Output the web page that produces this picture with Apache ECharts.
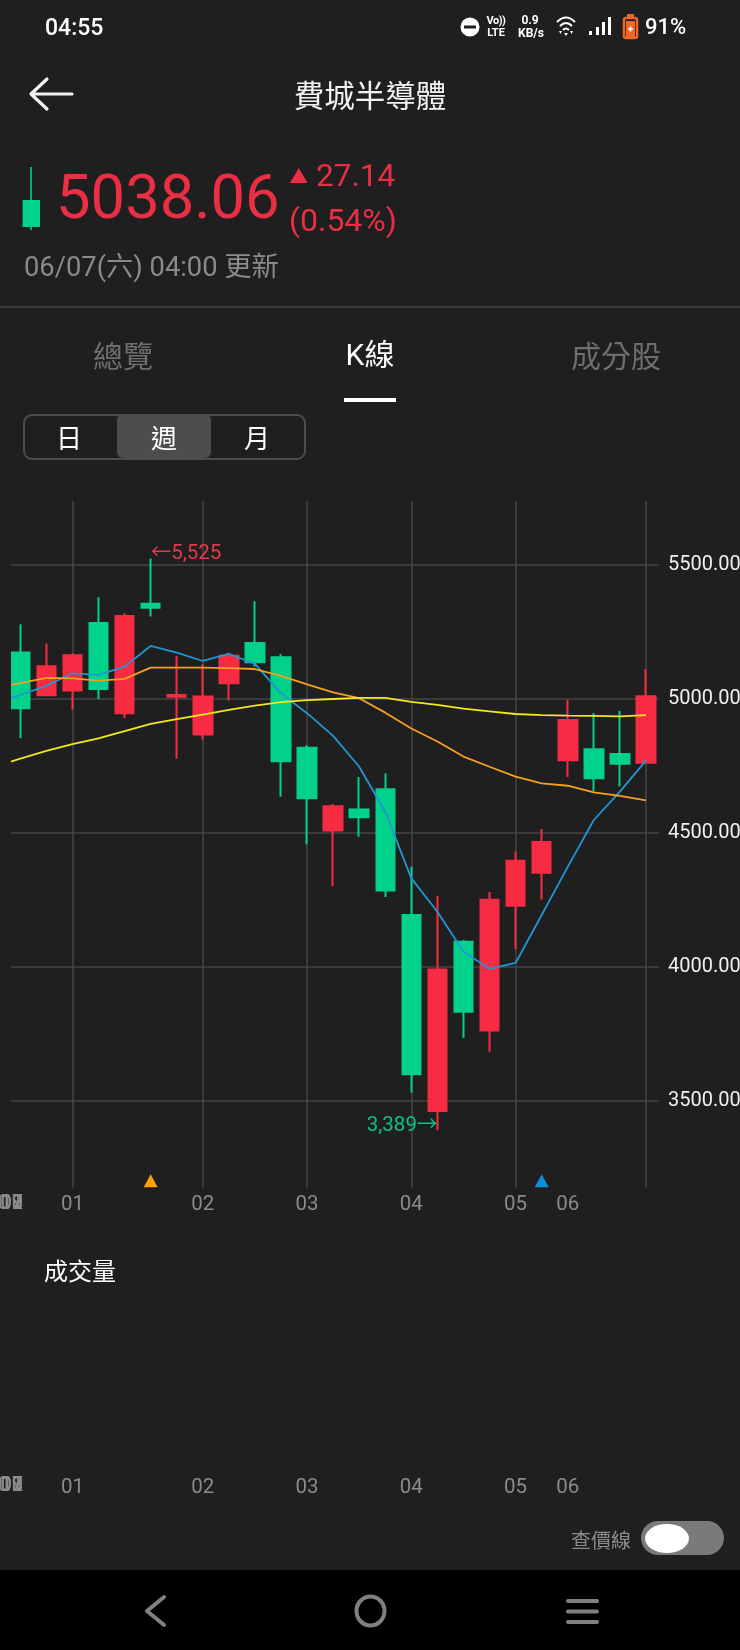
<!DOCTYPE html>
<html lang="zh-Hant">

<head>
  <meta charset="UTF-8">
  <title>費城半導體</title>
  <style>
    html, body { margin: 0; padding: 0; background: #1f1f1f; }
    body { width: 740px; height: 1650px; position: relative; overflow: hidden;
      font-family: Roboto, "Noto Sans CJK TC", sans-serif; color: #fff; }
    #main { position: absolute; left: 0; top: 0; width: 740px; height: 1650px; }
    .t { position: absolute; white-space: nowrap; line-height: 1; }
    .c { transform: translate(-50%, -50%); }
    .l { transform: translateY(-50%); }
    .cjk { font-family: "Noto Sans CJK TC", sans-serif; }
    .box { position: absolute; }
    .red { color: #ea2f45; }
    .tab { font-size: 30px; color: #6e6e6e; }
    svg { position: absolute; left: 0; top: 0; }
  </style>
</head>

<body>
  <div id="main"></div>

  <!-- status bar -->
  <div class="t l" style="left:45px;top:27px;font-size:23px;font-weight:500">04:55</div>
  <div class="t c" style="left:496px;top:20px;font-size:11px;font-weight:700;letter-spacing:-0.5px">Vo))</div>
  <div class="t c" style="left:496px;top:32px;font-size:11px;font-weight:700">LTE</div>
  <div class="t c" style="left:530px;top:20px;font-size:12px;font-weight:700">0.9</div>
  <div class="t c" style="left:531px;top:33px;font-size:12px;font-weight:700">KB/s</div>
  <div class="t l" style="left:645px;top:27px;font-size:22px;font-weight:500">91%</div>

  <!-- header -->
  <div class="t c cjk" style="left:370px;top:94px;font-size:30.500px;color:#f2f2f2">費城半導體</div>
  <div class="t l red" style="left:56px;top:198px;font-size:61.500px">5038.06</div>
  <div class="t l red" style="left:316px;top:176px;font-size:31.500px">27.14</div>
  <div class="t l red" style="left:289px;top:220px;font-size:32px">(0.54%)</div>
  <div class="t l" style="left:24px;top:268px;font-size:27.300px;color:#8a8a8a">06/07(六) 04:00 更新</div>

  <div class="box" style="left:0;top:306px;width:740px;height:2px;background:#3a3a3a"></div>

  <!-- tabs -->
  <div class="t c cjk tab" style="left:123px;top:354px">總覽</div>
  <div class="t c tab" style="left:370px;top:355px;color:#fff">K線</div>
  <div class="t c cjk tab" style="left:616px;top:354px">成分股</div>
  <div class="box" style="left:344px;top:398px;width:52px;height:4px;background:#fff"></div>

  <!-- 日 週 月 -->
  <div class="box" style="left:23px;top:414px;width:279px;height:42px;border:2px solid #4c4c4c;border-radius:9px"></div>
  <div class="box" style="left:117px;top:414px;width:94px;height:44px;background:#4d4d4d;border-radius:6px"></div>
  <div class="t c cjk" style="left:69px;top:437px;font-size:26px">日</div>
  <div class="t c cjk" style="left:164px;top:437px;font-size:26px">週</div>
  <div class="t c cjk" style="left:257px;top:437px;font-size:26px">月</div>

  <div class="t c cjk" style="left:80px;top:1270px;font-size:24px">成交量</div>

  <!-- 查價線 -->
  <div class="t c cjk" style="left:601px;top:1540px;font-size:20px;color:#8a8a8a">查價線</div>
  <div class="box" style="left:641px;top:1521px;width:83px;height:34px;background:#7a7a7a;border-radius:17px"></div>
  <div class="box" style="left:645px;top:1524px;width:44px;height:29px;background:#fff;border-radius:50%"></div>

  <!-- nav bar -->
  <div class="box" style="left:0;top:1570px;width:740px;height:80px;background:#000"></div>

  <svg width="740" height="1650" fill="none">
    <!-- dnd -->
    <circle cx="470" cy="27" r="9.5" fill="#fff" />
    <rect x="464" y="25.5" width="12" height="3" fill="#1f1f1f" />
    <!-- wifi -->
    <path d="M557 22 Q566 13 575 22 M560 26 Q566 20 572 26 M563 30 Q566 27 569 30" stroke="#fff" stroke-width="2" />
    <path d="M559 31 l3 0 l-1.5 3 z M570 31 l3 0 l-1.5 3 z M564 33 l4 0 l-2 3 z" fill="#fff" />
    <!-- signal -->
    <rect x="589" y="31" width="3" height="4" fill="#fff" />
    <rect x="596" y="27" width="3" height="8" fill="#fff" />
    <rect x="602" y="22" width="3" height="13" fill="#fff" />
    <rect x="608" y="17" width="3" height="18" fill="#fff" />
    <!-- battery -->
    <rect x="624" y="18" width="13" height="20" rx="2" fill="#1f1f1f" stroke="#f0662a" stroke-width="2.5" />
    <rect x="627" y="14" width="7" height="4" fill="#f0662a" />
    <rect x="626" y="21" width="9" height="16" fill="#f0662a" />
    <path d="M628 29 h5 M630.5 26.5 v5" stroke="#fff" stroke-width="1.6" />
    <!-- back -->
    <path d="M72 94 H32 M47 79 L31 94 L47 109" stroke="#f2f2f2" stroke-width="3.2" stroke-linecap="round" stroke-linejoin="round" />
    <!-- small candle -->
    <rect x="30.2" y="167" width="1.6" height="63" fill="#02d18b" />
    <rect x="22.6" y="200" width="17.4" height="27" fill="#02d18b" />
    <!-- up triangle -->
    <path d="M290 183 L298.8 168 L307.5 183 Z" fill="#ea2f45" />
    <!-- nav icons -->
    <path d="M164 1597 L147 1611 L164 1625" stroke="#808080" stroke-width="4" stroke-linecap="round" stroke-linejoin="round" />
    <ellipse cx="370.500" cy="1611" rx="14" ry="14.500" stroke="#808080" stroke-width="4" />
    <path d="M568 1601 H597 M568 1611.500 H597 M568 1622 H597" stroke="#808080" stroke-width="4" stroke-linecap="round" />
  </svg>

  <script src="https://cdn.jsdelivr.net/npm/echarts@6/dist/echarts.min.js"></script>
  <script>

  // 週K, 第一筆在畫面左緣外, 只留均線
  const weeks = ['12/13', '12/20', '12/27', '01/03', '01/10', '01/17', '01/24', '01/31', '02/07', '02/14', '02/21',
    '02/28', '03/07', '03/14', '03/21', '03/28', '04/04', '04/11', '04/18', '04/25', '05/02', '05/09', '05/16',
    '05/23', '05/30', '06/06'];

  // [open, close, low, high]
  const candles = [
    '-',
    [5174, 4965, 4853, 5279],
    [5014, 5122, 5014, 5207],
    [5032, 5163, 4961, 5171],
    [5284, 5037, 5000, 5380],
    [4947, 5310, 4929, 5320],
    [5356, 5341, 5308, 5525],
    [5008, 5015, 4777, 5162],
    [4867, 5009, 4849, 5130],
    [5059, 5162, 4994, 5173],
    [5209, 5137, 5121, 5365],
    [5156, 4767, 4635, 5168],
    [4818, 4629, 4457, 4827],
    [4509, 4599, 4301, 4608],
    [4587, 4558, 4485, 4709],
    [4663, 4285, 4260, 4722],
    [4193, 3598, 3530, 4373],
    [3461, 3990, 3389, 4264],
    [4093, 3832, 3734, 4100],
    [3762, 4250, 3682, 4279],
    [4228, 4396, 4066, 4430],
    [4351, 4466, 4251, 4514],
    [4771, 4922, 4709, 4996],
    [4812, 4704, 4654, 4948],
    [4795, 4758, 4674, 4955],
    [4762, 5010, 4762, 5112]
  ];

  const maBlue = [4980, 5015, 5049, 5096, 5090, 5121, 5198, 5173, 5142, 5169, 5131, 5021, 4947, 4862, 4747, 4579,
    4330, 4205, 4056, 3992, 4014, 4193, 4373, 4548, 4654, 4770];
  const maOrange = [5041, 5059, 5079, 5077, 5069, 5075, 5117, 5117, 5117, 5115, 5112, 5086, 5055, 5025, 5003, 4949,
    4890, 4841, 4785, 4747, 4710, 4685, 4676, 4651, 4638, 4621];
  const maYellow = [4746, 4777, 4806, 4831, 4853, 4880, 4907, 4925, 4942, 4959, 4975, 4988, 4996, 5000, 5004, 5004,
    4989, 4978, 4964, 4954, 4944, 4940, 4938, 4937, 4935, 4940];

  // 月份標籤 (對應 weeks)
  const tickLabels = {
    '01/03': '01', '02/07': '02', '03/07': '03', '04/04': '04', '05/02': '05', '05/16': '06'
  };
  const gridWeeks = ['01/03', '02/07', '03/07', '04/04', '05/02', '06/06'];
  const leftLabels = ['07', '08', '09', '10', '11', '12'];

  const priceTicks = { min: 3000, max: 6000, interval: 500 };
  const gridTop = 5740;
  const gridBottom = 3174;
  const highMark = ['01/24', 5525];
  const lowMark = ['04/11', 3389];
  const orangeFlag = [['01/24', 3200]];
  const blueFlag = [['05/09', 3200]];

  const RED = '#f72c43';
  const GREEN = '#02d18b';
  const GRID = '#464646';
  const LABEL = '#8b8b8b';
  const MARK_FONT = 'Roboto, "Noto Sans CJK TC"';

  let myChart = echarts.init(document.getElementById('main'), null, { renderer: 'canvas' });

  function maSeries(name, data, color) {
    return {
      name: name,
      type: 'line',
      data: data,
      symbol: 'none',
      z: 3,
      silent: true,
      lineStyle: { color: color, width: 1.8 }
    };
  }

  function monthAxis(gridIndex, offset) {
    return {
      type: 'category',
      gridIndex: gridIndex,
      data: weeks,
      offset: offset,
      axisLine: { show: false },
      axisTick: { show: false },
      splitLine: { show: false },
      axisLabel: {
        interval: 0,
        hideOverlap: false,
        margin: 7,
        color: LABEL,
        fontSize: 20.5,
        fontFamily: 'Roboto',
        formatter: (v) => tickLabels[v] || ''
      }
    };
  }

  let option = {
    animation: false,
    backgroundColor: 'transparent',
    grid: [
      { left: -18.8, top: 431.3, width: 677.8, height: 803.1, outerBoundsMode: 'none' },
      { left: -18.8, top: 1295, width: 677.8, height: 175, outerBoundsMode: 'none' }
    ],
    xAxis: [monthAxis(0, -47), monthAxis(1, 0)],
    yAxis: [
      {
        type: 'value',
        position: 'right',
        min: priceTicks.min,
        max: priceTicks.max,
        interval: priceTicks.interval,
        axisLine: { show: false },
        axisTick: { show: false },
        axisLabel: {
          margin: 9,
          padding: [2, 0, 0, 0],
          color: '#f0f0f0',
          fontSize: 20,
          fontFamily: 'Roboto',
          showMinLabel: false,
          showMaxLabel: false,
          formatter: (v) => v.toFixed(2)
        },
        splitLine: {
          showMinLine: false,
          showMaxLine: false,
          lineStyle: { color: GRID, width: 1.5 }
        }
      },
      { type: 'value', gridIndex: 1, show: false, splitLine: { show: false } }
    ],
    series: [
      {
        name: 'K',
        type: 'candlestick',
        data: candles,
        barWidth: 19,
        z: 2,
        silent: true,
        itemStyle: { color: RED, color0: GREEN, borderColor: RED, borderColor0: GREEN, borderWidth: 2 },
        markLine: {
          silent: true,
          z: 1,
          symbol: ['none', 'none'],
          label: { show: false },
          lineStyle: { color: GRID, width: 1.5, type: 'solid' },
          data: gridWeeks.map((w) => [{ xAxis: w, yAxis: gridTop }, { xAxis: w, yAxis: gridBottom }])
        },
        markPoint: {
          silent: true,
          symbolSize: 0,
          z: 4,
          data: [
            {
              coord: highMark,
              label: {
                show: true, position: 'right', distance: 0, offset: [0, -5],
                color: '#e2394d', fontSize: 20.5, fontFamily: MARK_FONT,
                formatter: '←' + highMark[1].toLocaleString('en-US')
              }
            },
            {
              coord: lowMark,
              label: {
                show: true, position: 'left', distance: 0, offset: [0, -4],
                color: '#0cc086', fontSize: 20.5, fontFamily: MARK_FONT,
                formatter: lowMark[1].toLocaleString('en-US') + '→'
              }
            }
          ]
        }
      },
      maSeries('MA5', maBlue, '#2196d3'),
      maSeries('MA20', maOrange, '#f5a01e'),
      maSeries('MA60', maYellow, '#f2e81e'),
      {
        name: 'high flag', type: 'scatter', data: orangeFlag, symbol: 'triangle', symbolSize: [14, 13],
        itemStyle: { color: '#ff9f00', opacity: 1 }, silent: true, z: 3
      },
      {
        name: 'low flag', type: 'scatter', data: blueFlag, symbol: 'triangle', symbolSize: [14, 13],
        itemStyle: { color: '#0a8fd8', opacity: 1 }, silent: true, z: 3
      }
    ],
    graphic: [
      // 遮掉畫面左緣 11px, K線和格線從這裡開始
      { type: 'rect', z: 50, silent: true, shape: { x: 0, y: 495, width: 11, height: 695 }, style: { fill: '#1f1f1f' } }
    ]
  };

  // 左緣擠在一起的月份標籤
  [1204, 1486].forEach((y) => {
    option.graphic.push({
      type: 'text', z: 51, silent: true, x: -2, y: y,
      style: { text: '0', fill: LABEL, font: '20px Roboto', verticalAlign: 'middle' }
    });
    leftLabels.forEach((t) => {
      option.graphic.push({
        type: 'text', z: 51, silent: true, x: 0.5, y: y,
        style: { text: t, fill: LABEL, font: '20px Roboto', verticalAlign: 'middle' }
      });
    });
  });

  myChart.setOption(option);

  </script>
</body>

</html>
